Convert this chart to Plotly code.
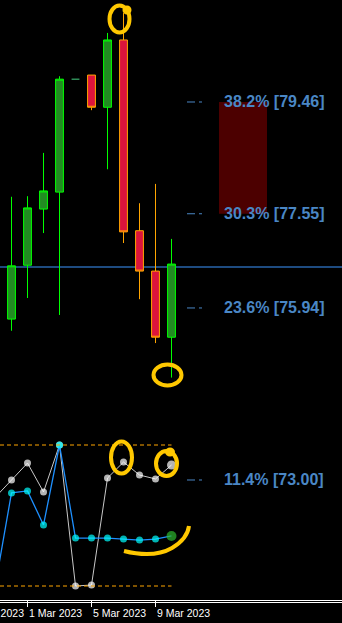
import plotly.graph_objects as go
import pandas as pd

# ---------------- data ----------------
dates = ["2023-02-27", "2023-02-28", "2023-03-01", "2023-03-02", "2023-03-03", "2023-03-04",
         "2023-03-05", "2023-03-06", "2023-03-07", "2023-03-08", "2023-03-09", "2023-03-10"]
opens = [76.64, 75.75, 76.67, 77.63, 77.92, 79.85, 79.92, 79.37, 80.52, 77.26, 76.57, 75.44]
highs = [76.70, 77.84, 77.85, 78.59, 79.90, 79.85, 79.92, 80.64, 80.98, 77.73, 78.06, 77.12]
lows = [75.60, 75.55, 76.11, 77.22, 75.82, 79.85, 79.32, 78.31, 77.05, 76.09, 75.34, 74.75]
closes = [75.72, 76.66, 77.65, 77.94, 79.85, 79.85, 79.37, 80.52, 77.24, 76.57, 75.44, 76.69]

white_line = [63.1, 75.2, 87.2, 66.7, 100.0, 0.0, 0.7, 76.6, 87.9, 78.7, 75.9, 85.8]
blue_line = [1.4, 66.0, 67.4, 43.3, 100.0, 34.0, 34.0, 34.0, 33.3, 32.6, 33.3, 35.5]

fib_pct = ["38.2%", "30.3%", "23.6%", "11.4%"]
fib_price = [79.46, 77.55, 75.94, 73.00]
zone_top, zone_bottom = 79.46, 77.55
price_line = 76.64
ind_levels = [100, 0]

tick_dates = ["2023-02-25", "2023-03-01", "2023-03-05", "2023-03-09"]
tick_labels = ["25 Feb 2023", "1 Mar 2023", "5 Mar 2023", "9 Mar 2023"]

# ---------------- layout constants ----------------
W, H = 342, 623
PH = 600  # plot area height in px
px_per_day = 16.0
ref_date = pd.Timestamp("2023-03-01")
ref_px = 27.5
x_start = ref_date - pd.Timedelta(days=ref_px / px_per_day)
x_end = ref_date + pd.Timedelta(days=(W - ref_px) / px_per_day)
y_range = [70.949, 81.203]
y2_range = [-9.93, 415.6]


def xfrac(d):
    d = pd.Timestamp(d)
    return (d - x_start) / (x_end - x_start)


def P(x, y):
    return f"{x / W:.5f},{(PH - y) / PH:.5f}"


def ellipse(cx, cy, rx, ry):
    k = 0.5523
    return (f"M{P(cx + rx, cy)} C{P(cx + rx, cy + k * ry)} {P(cx + k * rx, cy + ry)} {P(cx, cy + ry)} "
            f"C{P(cx - k * rx, cy + ry)} {P(cx - rx, cy + k * ry)} {P(cx - rx, cy)} "
            f"C{P(cx - rx, cy - k * ry)} {P(cx - k * rx, cy - ry)} {P(cx, cy - ry)} "
            f"C{P(cx + k * rx, cy - ry)} {P(cx + rx, cy - k * ry)} {P(cx + rx, cy)} Z")


# split regular candles and the doji
reg = [i for i in range(len(dates)) if opens[i] != closes[i]]
doj = [i for i in range(len(dates)) if opens[i] == closes[i]]

fig = go.Figure()

fig.add_trace(go.Candlestick(
    x=[dates[i] for i in reg], open=[opens[i] for i in reg], high=[highs[i] for i in reg],
    low=[lows[i] for i in reg], close=[closes[i] for i in reg],
    increasing=dict(line=dict(color="#00ff00", width=1), fillcolor="#228b22"),
    decreasing=dict(line=dict(color="#ffa500", width=1), fillcolor="#dc143c"),
    hoverinfo="skip", showlegend=False))

fig.add_trace(go.Candlestick(
    x=[dates[i] for i in doj], open=[opens[i] for i in doj], high=[highs[i] for i in doj],
    low=[lows[i] for i in doj], close=[closes[i] for i in doj],
    increasing=dict(line=dict(color="#2e8b57", width=1.5), fillcolor="#2e8b57"),
    decreasing=dict(line=dict(color="#2e8b57", width=1.5), fillcolor="#2e8b57"),
    hoverinfo="skip", showlegend=False))

n = len(dates)
fig.add_trace(go.Scatter(
    x=dates, y=white_line, yaxis="y2", mode="lines+markers",
    line=dict(color="#c8c8c8", width=1),
    marker=dict(color="#ffffff", size=[7] * (n - 1) + [9], line=dict(width=0)),
    hoverinfo="skip", showlegend=False))

fig.add_trace(go.Scatter(
    x=dates, y=blue_line, yaxis="y2", mode="lines+markers",
    line=dict(color="#1e90ff", width=1.3),
    marker=dict(color=["#00ffff"] * (n - 1) + ["#2db82d"], size=[7] * (n - 1) + [10],
                line=dict(width=0)),
    hoverinfo="skip", showlegend=False))

shapes = []
# price line
shapes.append(dict(type="line", xref="paper", x0=0, x1=1, yref="y", y0=price_line, y1=price_line,
                   line=dict(color="#3c96ff", width=1.2), layer="below"))
# dark red zone
shapes.append(dict(type="rect", xref="paper", x0=219 / W, x1=267 / W, yref="y",
                   y0=zone_bottom, y1=zone_top, fillcolor="#4c0000", line=dict(width=0), layer="below"))
# fib dashes
for v in fib_price:
    shapes.append(dict(type="line", xref="paper", x0=187 / W, x1=202 / W, yref="y", y0=v, y1=v,
                       line=dict(color="#4a87c5", width=1, dash="8px,4px,3px")))
# indicator level lines
for lv in ind_levels:
    shapes.append(dict(type="line", xref="x", x0=x_start, x1=dates[-1], yref="y2", y0=lv, y1=lv,
                       line=dict(color="#ffa500", width=1, dash="4px,3px")))
# second axis line
shapes.append(dict(type="line", xref="paper", x0=0, x1=1, yref="paper", y0=-2.5 / PH, y1=-2.5 / PH,
                   line=dict(color="#ffffff", width=1)))

# hand-drawn yellow marks
yel = dict(color="#ffc800", width=4)
marks = [
    ellipse(119.5, 19, 10, 13.5),
    ellipse(127, 10, 2.5, 2.5),
    ellipse(167.5, 375, 14, 10.5),
    ellipse(121.5, 457.5, 10.5, 16),
    ellipse(166.5, 463.5, 10.5, 12.5),
    ellipse(170, 452, 3, 2.5),
    f"M{P(124, 551)} C{P(140, 555)} {P(158, 556)} {P(172, 548)} C{P(182, 542)} {P(188, 534)} {P(189, 526)}",
]
for m in marks:
    shapes.append(dict(type="path", xref="paper", yref="paper", path=m, line=yel))

annotations = []
for pct, v in zip(fib_pct, fib_price):
    annotations.append(dict(xref="paper", x=223 / W, yref="y", y=v, xanchor="left", yanchor="middle",
                            text=f"<b>{pct} [{v:.2f}]</b>", showarrow=False,
                            font=dict(family="Liberation Sans, Arial", size=16, color="#4a87c5"),
                            borderpad=0))
for d, t in zip(tick_dates, tick_labels):
    annotations.append(dict(xref="paper", x=xfrac(d), yref="paper", y=(PH - 613) / PH,
                            xanchor="left", yanchor="middle", text=t, showarrow=False,
                            font=dict(family="Liberation Sans, Arial", size=10.5, color="#ffffff"),
                            borderpad=0))

fig.update_layout(
    width=W, height=H,
    margin=dict(l=0, r=0, t=0, b=H - PH, pad=0),
    paper_bgcolor="#000000", plot_bgcolor="#000000",
    showlegend=False,
    xaxis=dict(type="date", range=[x_start, x_end], showgrid=False, zeroline=False,
               showline=True, linecolor="#ffffff", linewidth=1,
               ticks="outside", ticklen=6, tickcolor="#ffffff", tickwidth=1,
               tickvals=tick_dates, showticklabels=False,
               rangeslider=dict(visible=False), fixedrange=True),
    yaxis=dict(range=y_range, visible=False, showgrid=False, zeroline=False, fixedrange=True),
    yaxis2=dict(range=y2_range, overlaying="y", visible=False, showgrid=False,
                zeroline=False, fixedrange=True),
    shapes=shapes, annotations=annotations,
    boxgap=0.3,
)

fig.write_html("out.html", config=dict(displayModeBar=False))
